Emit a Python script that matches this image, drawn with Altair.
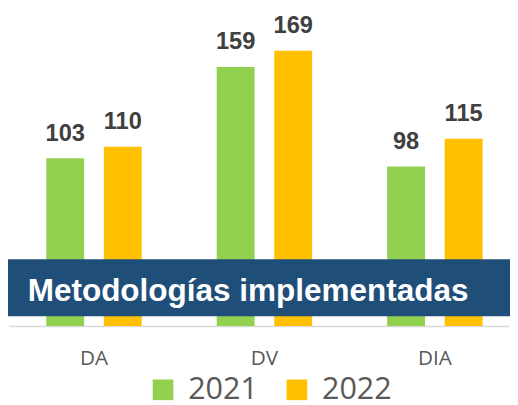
import altair as alt
import pandas as pd

categories = ["DA", "DV", "DIA"]
years = ["2021", "2022"]
values_2021 = [103, 159, 98]
values_2022 = [110, 169, 115]
banner_text = "Metodologías implementadas"
colors = ["#92d050", "#ffc000"]

rows = []
for c, a, b in zip(categories, values_2021, values_2022):
    rows.append({"cat": c, "year": "2021", "value": a})
    rows.append({"cat": c, "year": "2022", "value": b})
df = pd.DataFrame(rows)

W, H = 508, 298

x_enc = alt.X("cat:N", sort=categories, title=None,
              scale=alt.Scale(paddingInner=0.44, paddingOuter=0.187, align=0.585),
              axis=alt.Axis(labelAngle=0, ticks=False, domainColor="#d9d9d9", domainWidth=1.5,
                            labelColor="#595959", labelFontSize=21, labelFont="Open Sans",
                            labelPadding=22))
xo_enc = alt.XOffset("year:N", sort=years, scale=alt.Scale(paddingInner=0.342, paddingOuter=0))
y_enc = alt.Y("value:Q", scale=alt.Scale(domain=[0, 180], nice=False), axis=None)

base = alt.Chart(df)
bars = base.mark_bar().encode(
    x=x_enc, xOffset=xo_enc, y=y_enc,
    color=alt.Color("year:N", sort=years, scale=alt.Scale(domain=years, range=colors),
                    legend=alt.Legend(title=None, orient="none", legendX=141, legendY=347,
                                      direction="horizontal", symbolType="square",
                                      symbolSize=441, symbolStrokeWidth=0,
                                      labelFontSize=31, labelFont="Open Sans",
                                      labelColor="#595959", labelOffset=10,
                                      columnPadding=24)),
)
labels = base.mark_text(font="Liberation Sans", fontWeight="bold", fontSize=24,
                        color="#404040", baseline="alphabetic", dy=-18).encode(
    x=x_enc, xOffset=xo_enc, y=y_enc, text="value:Q")

banner_df = pd.DataFrame({"t": [banner_text]})
banner_rect = alt.Chart(banner_df).mark_rect(color="#1f4e79").encode(
    x=alt.value(-2), x2=alt.value(W + 2), y=alt.value(230), y2=alt.value(288))
banner_lbl = alt.Chart(banner_df).mark_text(
    font="Liberation Sans", fontWeight="bold", fontSize=32, color="white",
    align="left", baseline="alphabetic").encode(
    x=alt.value(19), y=alt.value(273), text="t:N")

chart = alt.layer(bars, labels, banner_rect, banner_lbl).properties(
    width=W, height=H,
    autosize=alt.AutoSizeParams(type="none"),
    padding={"left": 1, "top": 22, "right": 1, "bottom": 77},
).configure_view(stroke=None)

chart.save("out.html", embed_options={"renderer": "svg", "actions": False})
